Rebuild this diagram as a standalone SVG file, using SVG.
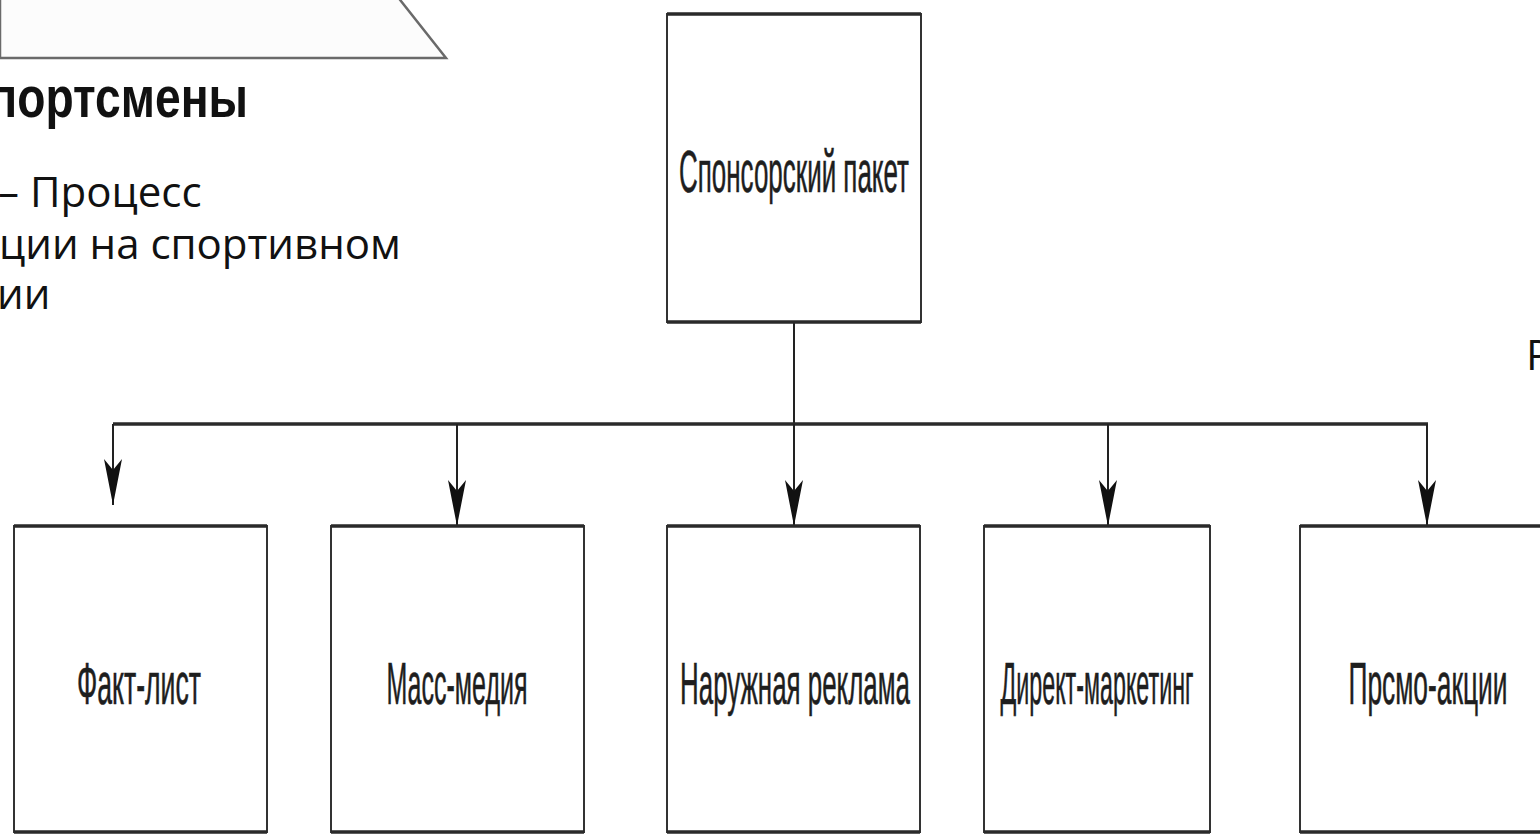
<svg xmlns="http://www.w3.org/2000/svg" width="1540" height="834" viewBox="0 0 1540 834">
  <style>
    .box { fill: #ffffff; stroke: #333333; stroke-width: 2; }
    .edge { stroke: #2a2a2a; stroke-width: 3.5; fill: none; }
    .lbl { font-family: "Liberation Sans", Arial, sans-serif; font-size: 60px; fill: #1e1e1e; stroke: #1e1e1e; stroke-width: 0.6; text-anchor: middle; }
    .conn { stroke: #222222; stroke-width: 2; fill: none; }
    .bus { stroke: #2a2a2a; stroke-width: 3.5; fill: none; }
    .slide { font-family: "Open Sans", "Noto Sans", sans-serif; font-size: 42px; fill: #111111; }
  </style>
  <defs>
    <marker id="arr" viewBox="0 0 46 18" refX="46" refY="9" markerWidth="46" markerHeight="18" markerUnits="userSpaceOnUse" orient="auto">
      <path d="M0,0 L46,9 L0,18 L11,9 Z" fill="#111111"/>
    </marker>
  </defs>
  <rect width="1540" height="834" fill="#ffffff"/>

  <!-- background slide fragments -->
  <g id="slide-fragment">
    <polygon points="0,-4 397,-4 446,58 0,58" fill="#fcfcfc" stroke="#6a6a6a" stroke-width="2.5"/>
    <text x="-44" y="117" font-family="'Liberation Sans', Arial, sans-serif" font-weight="bold" font-size="58" fill="#111111" textLength="292" lengthAdjust="spacingAndGlyphs">Спортсмены</text>
    <text class="slide" x="-2" y="207">– Процесс</text>
    <text class="slide" x="-1" y="259">ции на спортивном</text>
    <text class="slide" x="-3" y="309">ии</text>
    <text class="slide" x="1526" y="370">Р</text>
  </g>

  <!-- connectors -->
  <g id="connectors">
    <line class="conn" x1="794" y1="322" x2="794" y2="424"/>
    <line class="bus" x1="113" y1="424" x2="1428" y2="424"/>
    <line class="conn" x1="113" y1="424" x2="113" y2="505" marker-end="url(#arr)"/>
    <line class="conn" x1="457" y1="424" x2="457" y2="526" marker-end="url(#arr)"/>
    <line class="conn" x1="794" y1="424" x2="794" y2="526" marker-end="url(#arr)"/>
    <line class="conn" x1="1108" y1="424" x2="1108" y2="526" marker-end="url(#arr)"/>
    <line class="conn" x1="1427" y1="424" x2="1427" y2="526" marker-end="url(#arr)"/>
  </g>

  <!-- nodes -->
  <g id="node-sponsor">
    <rect class="box" x="667" y="14" width="254" height="308"/>
    <path class="edge" d="M667,14 H921 M667,322 H921"/>
    <text class="lbl" x="794" y="192" textLength="230" lengthAdjust="spacingAndGlyphs">Спонсорский пакет</text>
  </g>
  <g id="node-fact">
    <rect class="box" x="14" y="526" width="253" height="306"/>
    <path class="edge" d="M14,526 H267 M14,832 H267"/>
    <text class="lbl" x="139" y="704" textLength="124" lengthAdjust="spacingAndGlyphs">Факт-лист</text>
  </g>
  <g id="node-mass">
    <rect class="box" x="331" y="526" width="253" height="306"/>
    <path class="edge" d="M331,526 H584 M331,832 H584"/>
    <text class="lbl" x="457" y="704" textLength="141" lengthAdjust="spacingAndGlyphs">Масс-медия</text>
  </g>
  <g id="node-outdoor">
    <rect class="box" x="667" y="526" width="253" height="306"/>
    <path class="edge" d="M667,526 H920 M667,832 H920"/>
    <text class="lbl" x="795" y="704" textLength="230" lengthAdjust="spacingAndGlyphs">Наружная реклама</text>
  </g>
  <g id="node-direct">
    <rect class="box" x="984" y="526" width="226" height="306"/>
    <path class="edge" d="M984,526 H1210 M984,832 H1210"/>
    <text class="lbl" x="1097" y="704" textLength="193" lengthAdjust="spacingAndGlyphs">Директ-маркетинг</text>
  </g>
  <g id="node-promo">
    <rect class="box" x="1300" y="526" width="260" height="306"/>
    <path class="edge" d="M1300,526 H1560 M1300,832 H1560"/>
    <text class="lbl" x="1428" y="704" textLength="159" lengthAdjust="spacingAndGlyphs">Прсмо-акции</text>
  </g>
</svg>
